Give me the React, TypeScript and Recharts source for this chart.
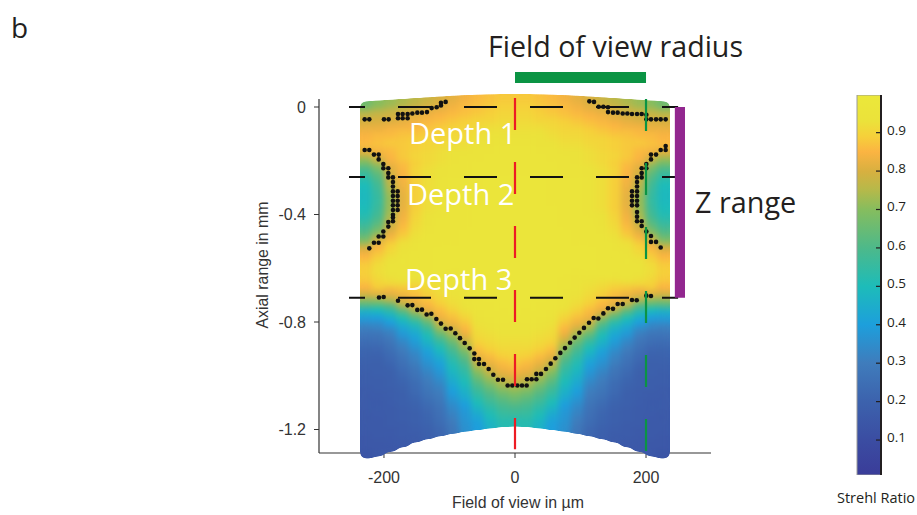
import React from 'react';
import {
  Bar,
  BarChart,
  ReferenceArea,
  ReferenceLine,
  Scatter,
  ScatterChart,
  XAxis,
  YAxis,
} from 'recharts';

// field of view positions of the simulated columns, in um
const columnX = [-226, -209, -190, -171, -152, -133, -114, -95, -76, -57, -38, -19, 0, 19, 38, 57, 76, 95, 114, 133, 152, 171, 190, 209, 226];
// curved upper and lower limit of the simulated volume per column, in mm
const columnTop = [0.018, 0.021, 0.024, 0.027, 0.03, 0.033, 0.036, 0.039, 0.041, 0.043, 0.044, 0.045, 0.045, 0.045, 0.044, 0.043, 0.041, 0.039, 0.036, 0.033, 0.03, 0.027, 0.024, 0.021, 0.018];
const columnBottom = [-1.305, -1.297, -1.28, -1.263, -1.245, -1.233, -1.222, -1.213, -1.205, -1.199, -1.193, -1.188, -1.186, -1.188, -1.193, -1.199, -1.205, -1.213, -1.222, -1.233, -1.245, -1.263, -1.28, -1.297, -1.305];

// Strehl ratio x 100, one row per depth step
const strehlRows = [
  [66, 70, 72, 74, 76, 78, 80, 82, 84, 86, 87, 88, 88, 88, 87, 86, 84, 82, 80, 78, 76, 74, 72, 70, 66],
  [76, 77, 78, 79, 80, 81, 82, 84, 86, 87, 88, 89, 89, 89, 88, 87, 86, 84, 82, 81, 80, 79, 78, 77, 76],
  [80, 80, 80, 81, 82, 84, 85, 86, 87, 88, 89, 90, 90, 90, 89, 88, 87, 86, 85, 84, 82, 81, 80, 80, 80],
  [83, 83, 84, 84, 85, 86, 87, 88, 89, 90, 90, 91, 91, 91, 90, 90, 89, 88, 87, 86, 85, 84, 84, 83, 83],
  [85, 86, 86, 87, 87, 88, 89, 90, 90, 91, 92, 92, 92, 92, 92, 91, 90, 90, 89, 88, 87, 87, 86, 86, 85],
  [86, 87, 88, 88, 89, 90, 90, 91, 91, 92, 93, 93, 93, 93, 93, 92, 91, 91, 90, 90, 89, 88, 88, 87, 86],
  [80, 84, 86, 88, 89, 90, 91, 92, 92, 93, 93, 94, 94, 94, 93, 93, 92, 92, 91, 90, 89, 88, 86, 84, 80],
  [70, 78, 85, 88, 90, 91, 92, 93, 93, 94, 94, 95, 95, 95, 94, 94, 93, 93, 92, 91, 90, 88, 85, 78, 70],
  [60, 68, 82, 86, 89, 91, 92, 93, 94, 94, 95, 95, 95, 95, 95, 94, 94, 93, 92, 91, 89, 86, 82, 68, 60],
  [54, 62, 79, 85, 90, 92, 93, 94, 94, 95, 95, 95, 95, 95, 95, 95, 94, 94, 93, 92, 90, 85, 79, 62, 54],
  [50, 58, 77, 84, 89, 92, 93, 94, 94, 95, 95, 95, 95, 95, 95, 95, 94, 94, 93, 92, 89, 84, 77, 58, 50],
  [49, 56, 74, 83, 89, 92, 94, 95, 95, 95, 96, 96, 96, 96, 96, 95, 95, 95, 94, 92, 89, 83, 74, 56, 49],
  [49, 55, 72, 82, 89, 92, 94, 95, 95, 95, 96, 96, 96, 96, 96, 95, 95, 95, 94, 92, 89, 82, 72, 55, 49],
  [50, 56, 72, 82, 89, 92, 94, 95, 95, 95, 96, 96, 96, 96, 96, 95, 95, 95, 94, 92, 89, 82, 72, 56, 50],
  [52, 58, 73, 83, 89, 92, 94, 95, 95, 95, 96, 96, 96, 96, 96, 95, 95, 95, 94, 92, 89, 83, 73, 58, 52],
  [56, 62, 76, 84, 90, 93, 94, 95, 95, 96, 96, 96, 96, 96, 96, 96, 95, 95, 94, 93, 90, 84, 76, 62, 56],
  [61, 68, 80, 86, 91, 93, 95, 95, 95, 96, 96, 96, 96, 96, 96, 96, 95, 95, 95, 93, 91, 86, 80, 68, 61],
  [68, 78, 84, 88, 92, 94, 95, 95, 95, 96, 96, 96, 96, 96, 96, 96, 95, 95, 95, 94, 92, 88, 84, 78, 68],
  [80, 85, 89, 92, 93, 95, 95, 95, 96, 96, 96, 96, 96, 96, 96, 96, 96, 95, 95, 95, 93, 92, 89, 85, 80],
  [85, 88, 91, 93, 94, 95, 95, 95, 96, 96, 96, 96, 96, 96, 96, 96, 96, 95, 95, 95, 94, 93, 91, 88, 85],
  [88, 91, 93, 94, 95, 95, 96, 96, 96, 96, 96, 96, 96, 96, 96, 96, 96, 96, 96, 95, 95, 94, 93, 91, 88],
  [89, 92, 94, 95, 95, 95, 96, 96, 96, 96, 96, 96, 96, 96, 96, 96, 96, 96, 96, 95, 95, 95, 94, 92, 89],
  [88, 91, 93, 94, 95, 95, 96, 96, 96, 96, 96, 96, 96, 96, 96, 96, 96, 96, 96, 95, 95, 94, 93, 91, 88],
  [85, 89, 91, 93, 94, 95, 95, 95, 96, 96, 96, 96, 96, 96, 96, 96, 96, 95, 95, 95, 94, 93, 91, 89, 85],
  [78, 82, 84, 88, 90, 92, 93, 94, 95, 96, 96, 96, 96, 96, 96, 96, 95, 94, 93, 92, 90, 88, 84, 82, 78],
  [64, 68, 77, 83, 87, 90, 92, 94, 95, 96, 96, 96, 96, 96, 96, 96, 95, 94, 92, 90, 87, 83, 77, 68, 64],
  [46, 50, 60, 78, 84, 88, 91, 93, 94, 96, 96, 96, 96, 96, 96, 96, 94, 93, 91, 88, 84, 78, 60, 50, 46],
  [38, 40, 48, 62, 79, 85, 89, 92, 94, 95, 96, 96, 96, 96, 96, 95, 94, 92, 89, 85, 79, 62, 48, 40, 38],
  [31, 33, 40, 50, 65, 80, 86, 90, 93, 95, 95, 96, 96, 96, 95, 95, 93, 90, 86, 80, 65, 50, 40, 33, 31],
  [27, 28, 33, 43, 52, 66, 83, 87, 91, 94, 95, 95, 96, 95, 95, 94, 91, 87, 83, 66, 52, 43, 33, 28, 27],
  [24, 25, 29, 38, 45, 56, 75, 83, 88, 93, 94, 95, 95, 95, 94, 93, 88, 83, 75, 56, 45, 38, 29, 25, 24],
  [21, 22, 26, 33, 41, 50, 65, 76, 85, 92, 93, 94, 94, 94, 93, 92, 85, 76, 65, 50, 41, 33, 26, 22, 21],
  [20, 20, 24, 30, 37, 46, 56, 68, 81, 91, 92, 93, 93, 93, 92, 91, 81, 68, 56, 46, 37, 30, 24, 20, 20],
  [19, 19, 22, 27, 33, 41, 50, 61, 74, 89, 91, 92, 92, 92, 91, 89, 74, 61, 50, 41, 33, 27, 22, 19, 19],
  [18, 19, 20, 25, 31, 38, 45, 56, 67, 86, 89, 91, 91, 91, 89, 86, 67, 56, 45, 38, 31, 25, 20, 19, 18],
  [18, 18, 19, 23, 28, 35, 41, 52, 61, 81, 86, 89, 90, 89, 86, 81, 61, 52, 41, 35, 28, 23, 19, 18, 18],
  [17, 18, 19, 21, 26, 32, 38, 49, 56, 75, 82, 86, 88, 86, 82, 75, 56, 49, 38, 32, 26, 21, 19, 18, 17],
  [17, 17, 18, 20, 24, 30, 35, 46, 53, 69, 78, 83, 85, 83, 78, 69, 53, 46, 35, 30, 24, 20, 18, 17, 17],
  [17, 17, 18, 19, 23, 28, 32, 43, 50, 63, 72, 79, 81, 79, 72, 63, 50, 43, 32, 28, 23, 19, 18, 17, 17],
  [16, 17, 17, 19, 21, 26, 30, 40, 47, 58, 66, 73, 76, 73, 66, 58, 47, 40, 30, 26, 21, 19, 17, 17, 16],
  [16, 16, 17, 18, 20, 24, 28, 37, 44, 54, 61, 67, 70, 67, 61, 54, 44, 37, 28, 24, 20, 18, 17, 16, 16],
  [16, 16, 17, 18, 19, 22, 26, 34, 40, 50, 57, 62, 65, 62, 57, 50, 40, 34, 26, 22, 19, 18, 17, 16, 16],
  [15, 16, 16, 17, 19, 21, 25, 32, 38, 46, 53, 58, 60, 58, 53, 46, 38, 32, 25, 21, 19, 17, 16, 16, 15],
  [15, 15, 16, 17, 18, 20, 24, 30, 37, 42, 50, 55, 56, 55, 50, 42, 37, 30, 24, 20, 18, 17, 16, 15, 15],
  [14, 15, 15, 16, 17, 19, 22, 28, 36, 40, 47, 52, 52, 52, 47, 40, 36, 28, 22, 19, 17, 16, 15, 15, 14],
];

// black points: where the Strehl ratio crosses 0.8 [um, mm]
const topLeftDots = [
  [-229.5, -0.046], [-222.4, -0.046], [-200, -0.046], [-192.9, -0.046], [-178.6, -0.042], [-171.5, -0.042], [-163.9, -0.042],
  [-178.6, -0.026], [-171.5, -0.026], [-163.9, -0.026], [-156.7, -0.024], [-149.1, -0.021], [-142, -0.021], [-134.4, -0.019],
  [-127.2, -0.004], [-119.6, -0.001], [-113, 0.006], [-113, 0.016], [-105.9, 0.019],
];
const topRightDots = [
  [113.5, 0.021], [120.6, 0.019], [127.7, 0.001], [134.9, 0.001], [142, -0.001], [142, -0.019], [149.6, -0.021], [156.7, -0.021],
  [164.4, -0.024], [171.5, -0.024], [178.6, -0.026], [186.3, -0.026], [193.4, -0.026], [200.5, -0.029], [200.5, -0.046],
  [207.6, -0.046], [215.3, -0.046], [222.4, -0.046], [230, -0.046],
];
const leftArcDots = [
  [-229.5, -0.16], [-222.4, -0.16], [-215.3, -0.177], [-208.1, -0.177], [-208.1, -0.195], [-201, -0.212], [-201, -0.228],
  [-193.4, -0.228], [-193.4, -0.246], [-193.4, -0.262], [-186.3, -0.262], [-186.3, -0.279], [-186.3, -0.296], [-186.3, -0.314],
  [-186.3, -0.331], [-179.1, -0.314], [-179.1, -0.331], [-186.3, -0.349], [-179.1, -0.349], [-186.3, -0.366], [-179.1, -0.366],
  [-186.3, -0.383], [-179.1, -0.383], [-186.3, -0.401], [-186.3, -0.411], [-193.4, -0.428], [-186.3, -0.425], [-193.4, -0.445],
  [-201, -0.463], [-208.1, -0.482], [-201, -0.482], [-215.3, -0.505], [-208.1, -0.505], [-222.4, -0.526],
];
const rightArcDots = [
  [230, -0.145], [230, -0.16], [222.4, -0.16], [215.3, -0.177], [207.6, -0.177], [207.6, -0.195], [200.5, -0.212], [193.4, -0.228],
  [200.5, -0.228], [193.4, -0.246], [193.4, -0.262], [186.3, -0.262], [186.3, -0.279], [186.3, -0.296], [178.6, -0.314],
  [186.3, -0.314], [178.6, -0.331], [186.3, -0.331], [178.6, -0.349], [186.3, -0.349], [178.6, -0.366], [186.3, -0.366],
  [186.3, -0.391], [186.3, -0.408], [186.3, -0.425], [193.4, -0.425], [193.4, -0.443], [200.5, -0.463], [207.6, -0.48],
  [207.6, -0.502], [215.3, -0.502], [222.4, -0.523],
];
const lowerDots = [
  [-207.6, -0.709], [-200.5, -0.707], [-178.6, -0.721], [-163.9, -0.738], [-156.7, -0.737], [-149.1, -0.755], [-142, -0.754],
  [-134.9, -0.772], [-127.7, -0.769], [-120.1, -0.789], [-113, -0.806], [-105.9, -0.825], [-98.2, -0.824], [-91.1, -0.842],
  [-84, -0.86], [-76.8, -0.878], [-69.2, -0.898], [-62.1, -0.917], [-62.1, -0.938], [-55, -0.938], [-55, -0.956], [-47.3, -0.956],
  [-40.2, -0.975], [-33.1, -0.996], [-26, -1.015], [-18.3, -1.015], [-11.2, -1.036], [-4.1, -1.036], [3.6, -1.036], [10.7, -1.036],
  [17.8, -1.036], [18.3, -1.013], [25.4, -1.013], [32.6, -1.013], [32.6, -0.993], [39.7, -0.993], [47.3, -0.975], [54.5, -0.955],
  [61.6, -0.935], [69.2, -0.915], [76.3, -0.897], [84, -0.877], [91.1, -0.858], [98.2, -0.84], [105.3, -0.822], [113, -0.803],
  [120.1, -0.785], [127.2, -0.787], [134.9, -0.768], [142, -0.749], [149.6, -0.751], [156.7, -0.733], [164.4, -0.733],
  [178.6, -0.718], [185.8, -0.719], [200.5, -0.702], [207.6, -0.703],
];

const depthLevels = [0, -0.26, -0.71];
const xTicks = [-200, 0, 200];
const yTicks = [0, -0.4, -0.8, -1.2];
const strehlTicks = [0.1, 0.2, 0.3, 0.4, 0.5, 0.6, 0.7, 0.8, 0.9];

// colour bar: [strehl, colour]
const strehlColors: [number, string][] = [
  [0, '#3a3c99'],
  [0.1, '#3b4da2'],
  [0.2, '#3c62ad'],
  [0.3, '#3f7cbc'],
  [0.4, '#1d9fdc'],
  [0.5, '#1dbcb9'],
  [0.6, '#4db98a'],
  [0.7, '#86bd5e'],
  [0.75, '#b5b94a'],
  [0.8, '#d8b040'],
  [0.85, '#fbb442'],
  [0.89, '#f6d03a'],
  [0.93, '#ebe23a'],
  [1, '#ebe83a'],
];

const BAR_MIN = 0.009;
const BAR_MAX = 0.998;
const strehlBarData = [{ name: 'Strehl Ratio', range: [BAR_MIN, BAR_MAX] }];

const allDots = [...topLeftDots, ...topRightDots, ...leftArcDots, ...rightArcDots, ...lowerDots].map(([x, y]) => ({ x, y }));

// half a cell in mm, so the outer edge of the outer cells sits on the limit
const CELL_MM = 0.014;

const heatCells = strehlRows.flatMap((row, j) =>
  row.map((strehl, i) => {
    const top = columnTop[i] - CELL_MM;
    const bottom = columnBottom[i] + CELL_MM;
    return {
      x: columnX[i],
      y: top + ((bottom - top) * j) / (strehlRows.length - 1),
      strehl: strehl / 100,
    };
  }),
);

const hexToRgb = (hex: string) => [1, 3, 5].map((p) => parseInt(hex.slice(p, p + 2), 16));

const strehlToColor = (v: number) => {
  for (let k = 1; k < strehlColors.length; k++) {
    const [v1, c1] = strehlColors[k];
    if (v <= v1) {
      const [v0, c0] = strehlColors[k - 1];
      const t = (v - v0) / (v1 - v0);
      const a = hexToRgb(c0);
      const b = hexToRgb(c1);
      return `rgb(${a.map((ch, n) => Math.round(ch + (b[n] - ch) * t)).join(',')})`;
    }
  }
  return strehlColors[strehlColors.length - 1][1];
};

const HeatCell = (props: any) => (
  <rect x={props.cx - 6.5} y={props.cy - 4.2} width={13} height={8.4} fill={strehlToColor(props.payload.strehl)} />
);

const BlackDot = (props: any) => <circle cx={props.cx} cy={props.cy} r={2.3} fill="#111" />;

// mirrored axis: the tick lines point into the bar, the labels stay outside
const StrehlTick = (props: any) => (
  <text x={47} y={props.y + 2} fontFamily="'Open Sans'" fontSize={13.5} fill="#231f20">
    {props.payload.value.toFixed(1)}
  </text>
);

const StrehlBar = () => (
  <div style={{ position: 'absolute', left: 840, top: 85 }}>
    <BarChart width={77} height={400} data={strehlBarData} barCategoryGap={0} margin={{ top: 10, right: 36, bottom: 10, left: 17 }}>
      <defs>
        <linearGradient id="strehlGradient" x1="0" y1="0" x2="0" y2="1">
          {[...strehlColors].reverse().map(([v, c]) => (
            <stop key={v} offset={Math.min(1, Math.max(0, (BAR_MAX - v) / (BAR_MAX - BAR_MIN)))} stopColor={c} />
          ))}
        </linearGradient>
      </defs>
      <XAxis dataKey="name" hide />
      <YAxis
        type="number"
        orientation="right"
        mirror
        width={36}
        domain={[BAR_MIN, BAR_MAX]}
        allowDataOverflow
        ticks={strehlTicks}
        tickSize={5}
        axisLine={{ stroke: '#231f20', strokeWidth: 2 }}
        tickLine={{ stroke: '#231f20', strokeWidth: 1.2 }}
        tick={StrehlTick}
        interval={0}
      />
      <Bar dataKey="range" fill="url(#strehlGradient)" stroke="#9a9a9a" strokeWidth={1} isAnimationActive={false} />
    </BarChart>
  </div>
);

const Annotations = () => (
  <svg width={917} height={515} style={{ position: 'absolute', left: 0, top: 0, pointerEvents: 'none' }}>
    <defs>
      <filter id="smoothCells" x="-5%" y="-5%" width="110%" height="110%" colorInterpolationFilters="sRGB">
        <feGaussianBlur stdDeviation="3" />
        <feComponentTransfer>
          <feFuncA type="linear" slope="12" intercept="-5" />
        </feComponentTransfer>
      </filter>
    </defs>
    <g fontFamily="'Open Sans'" fill="#231f20">
      <text x={11} y={38} fontSize={28}>b</text>
      <text x={488} y={57} fontSize={28.6}>Field of view radius</text>
      <text x={695} y={213} fontSize={28.8}>Z range</text>
      <text x={837} y={503} fontSize={14.5}>Strehl Ratio</text>
    </g>
    <g fontFamily="'Open Sans'" fill="#fff" fontSize={29}>
      <text x={409} y={144}>Depth 1</text>
      <text x={407} y={205}>Depth 2</text>
      <text x={405} y={290}>Depth 3</text>
    </g>
    <g fontFamily="'Liberation Sans'" fill="#333" fontSize={15.9}>
      <text x={518} y={508} textAnchor="middle">Field of view in µm</text>
      <text transform="translate(268,265) rotate(-90)" textAnchor="middle">Axial range in mm</text>
    </g>
  </svg>
);

export default function App() {
  return (
    <div style={{ position: 'absolute', left: 0, top: 0, width: 917, height: 515, background: '#fff', overflow: 'hidden' }}>
      <style>{`.heat-cells, .heat-cells * { clip-path: none !important; } .heat-cells { filter: url(#smoothCells); }`}</style>
      <ScatterChart width={917} height={515} margin={{ top: 99, right: 206, bottom: 32, left: 259 }}>
        <XAxis
          type="number"
          dataKey="x"
          domain={[-299.2, 299.2]}
          allowDataOverflow
          ticks={xTicks}
          height={30}
          tickSize={5}
          tickMargin={14}
          axisLine={{ stroke: '#333', strokeWidth: 1.2 }}
          tickLine={{ stroke: '#333' }}
          tick={{ fill: '#333', fontFamily: "'Liberation Sans'", fontSize: 16 }}
        />
        <YAxis
          type="number"
          dataKey="y"
          domain={[-1.2874, 0.0298]}
          allowDataOverflow
          ticks={yTicks}
          width={60}
          tickSize={5}
          tickMargin={8}
          interval={0}
          axisLine={{ stroke: '#333', strokeWidth: 1.2 }}
          tickLine={{ stroke: '#333' }}
          tick={{ fill: '#333', fontFamily: "'Liberation Sans'", fontSize: 16 }}
        />
        <Scatter data={heatCells} className="heat-cells" shape={HeatCell} isAnimationActive={false} />
        {depthLevels.map((y) => (
          <ReferenceLine
            key={y}
            segment={[{ x: -253.4, y }, { x: 249, y }]}
            stroke="#111"
            strokeWidth={2}
            strokeDasharray="33 33"
            strokeDashoffset={17}
            {...({ zIndex: 650 } as any)}
          />
        ))}
        <Scatter data={allDots} shape={BlackDot} isAnimationActive={false} {...({ zIndex: 660 } as any)} />
        <ReferenceLine
          segment={[{ x: 0, y: 0.0335 }, { x: 0, y: -1.273 }]}
          ifOverflow="visible"
          stroke="#ed1c24"
          strokeWidth={2.2}
          strokeDasharray="32 32"
          {...({ zIndex: 670 } as any)}
        />
        <ReferenceLine
          segment={[{ x: 200, y: 0.03 }, { x: 200, y: -1.28 }]}
          ifOverflow="visible"
          stroke="#0b9444"
          strokeWidth={2.2}
          strokeDasharray="32 32"
          {...({ zIndex: 670 } as any)}
        />
        <ReferenceArea x1={0} x2={200} y1={0.13} y2={0.0893} ifOverflow="visible" fill="#0b9444" fillOpacity={1} {...({ zIndex: 670 } as any)} />
        <ReferenceArea x1={244} x2={259.5} y1={0} y2={-0.71} ifOverflow="visible" fill="#92278f" fillOpacity={1} {...({ zIndex: 670 } as any)} />
      </ScatterChart>
      <StrehlBar />
      <Annotations />
    </div>
  );
}
